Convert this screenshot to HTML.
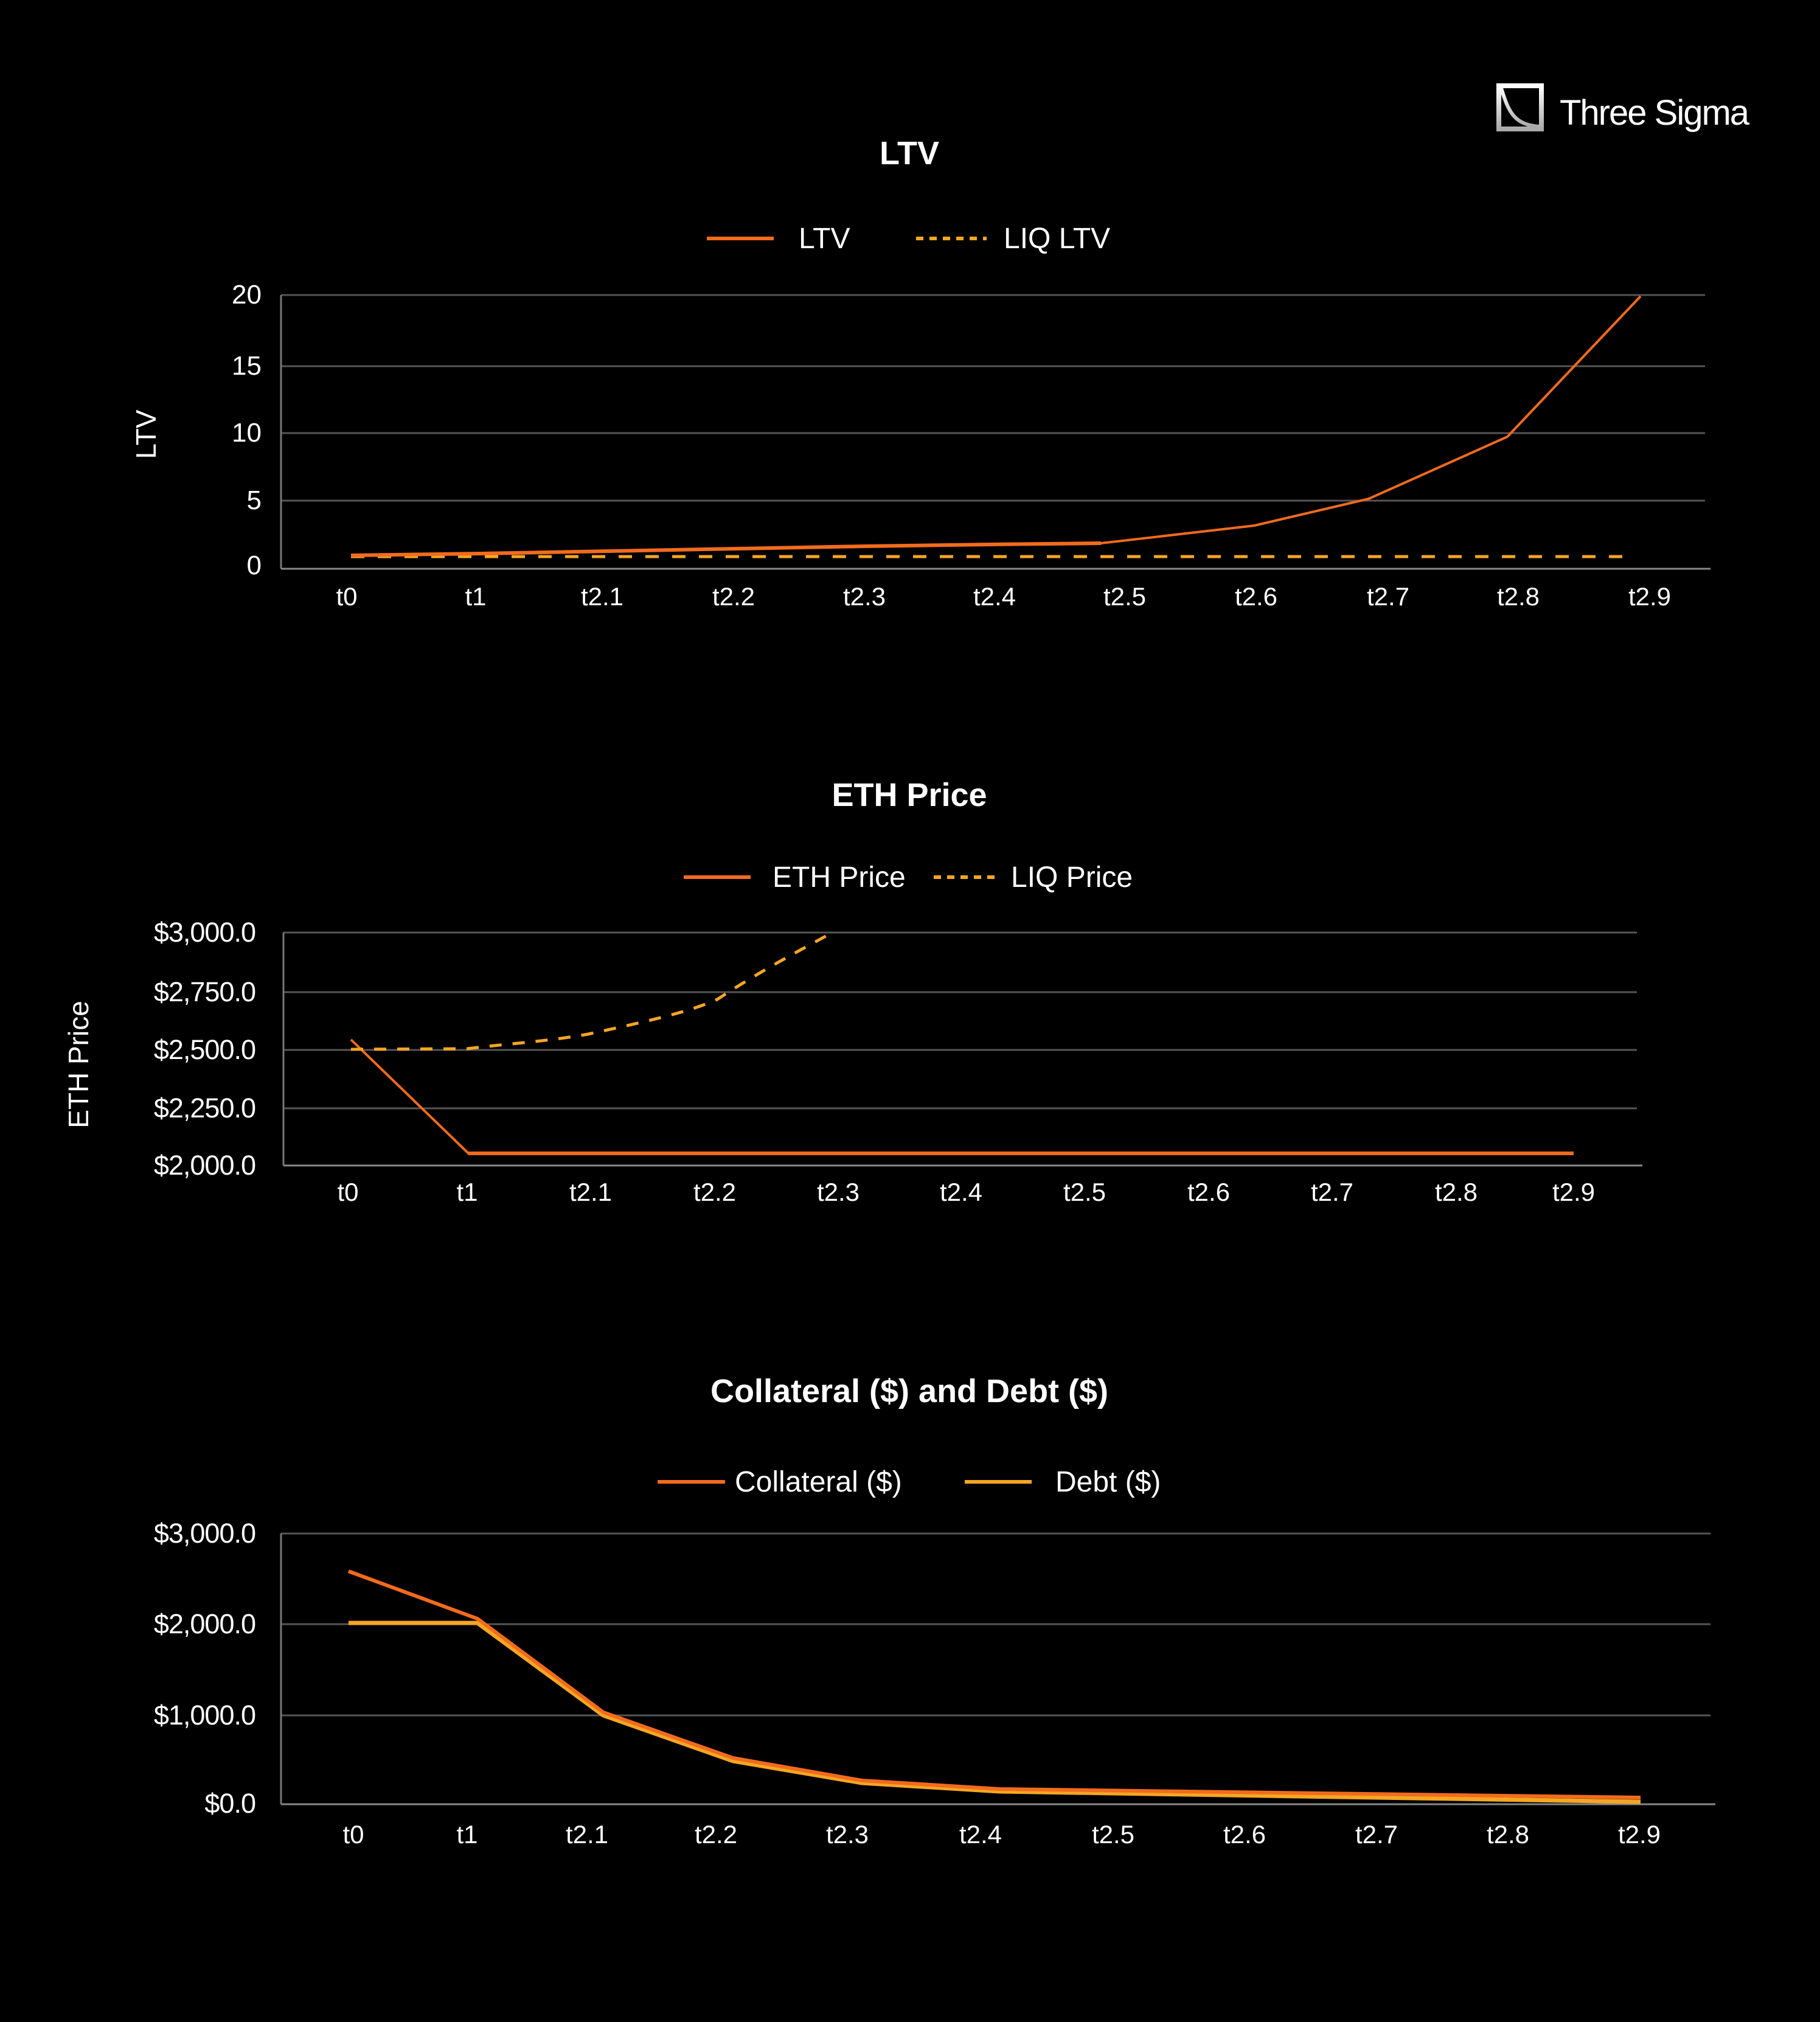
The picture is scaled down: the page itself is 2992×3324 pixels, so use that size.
<!DOCTYPE html>
<html><head><meta charset="utf-8"><style>
html,body{margin:0;padding:0;background:#000;}
svg{display:block;}
text{font-family:"Liberation Sans",sans-serif;fill:#fff;}
</style></head><body>
<svg width="2992" height="3324" viewBox="0 0 2992 3324" xmlns="http://www.w3.org/2000/svg">
<rect width="2992" height="3324" fill="#000"/>
<defs><linearGradient id="lg" x1="0" y1="0" x2="0" y2="1"><stop offset="0" stop-color="#fff"/><stop offset="1" stop-color="#aaa"/></linearGradient></defs>
<rect x="2464" y="141" width="70" height="71" fill="none" stroke="url(#lg)" stroke-width="8"/>
<path d="M2468 145 C2480 185 2490 205 2530 208" fill="none" stroke="url(#lg)" stroke-width="6"/>
<text x="2564" y="205" font-size="58" letter-spacing="-2" fill="url(#lg)">Three Sigma</text>

<text x="1495" y="270" font-size="54" font-weight="bold" text-anchor="middle">LTV</text>
<line x1="1162" y1="392" x2="1272" y2="392" stroke="#f26b1d" stroke-width="6"/>
<text x="1313" y="408" font-size="48">LTV</text>
<line x1="1506" y1="392" x2="1622" y2="392" stroke="#f5a623" stroke-width="6" stroke-dasharray="12,10"/>
<text x="1650" y="408" font-size="48">LIQ LTV</text>
<g stroke="#555" stroke-width="3">
<line x1="462" y1="485" x2="2803" y2="485"/><line x1="462" y1="602" x2="2803" y2="602"/>
<line x1="462" y1="712" x2="2803" y2="712"/><line x1="462" y1="823" x2="2803" y2="823"/>
</g>
<line x1="462" y1="485" x2="462" y2="935" stroke="#777" stroke-width="3"/>
<line x1="462" y1="935" x2="2812" y2="935" stroke="#888" stroke-width="3"/>
<g font-size="44" text-anchor="end">
<text x="430" y="499">20</text><text x="430" y="616">15</text><text x="430" y="726">10</text><text x="430" y="837">5</text><text x="430" y="944">0</text>
</g>
<text transform="translate(256,714) rotate(-90)" font-size="46" text-anchor="middle">LTV</text>
<g font-size="42" text-anchor="middle">
<text x="570" y="995">t0</text><text x="782" y="995">t1</text><text x="990" y="995">t2.1</text><text x="1206" y="995">t2.2</text><text x="1421" y="995">t2.3</text><text x="1635" y="995">t2.4</text><text x="1849" y="995">t2.5</text><text x="2065" y="995">t2.6</text><text x="2282" y="995">t2.7</text><text x="2496" y="995">t2.8</text><text x="2712" y="995">t2.9</text>
</g>
<line x1="577" y1="915" x2="2672" y2="915" stroke="#f5a623" stroke-width="5" stroke-dasharray="22,22"/>
<polyline points="577,913 790,910 1000,906 1210,902 1420,898 1630,895 1810,893 2062,864 2250,820 2478,718 2697,487" fill="none" stroke="#f26b1d" stroke-width="4"/>
<polyline points="577,913 790,910 1000,906 1210,902 1420,898 1630,895 1810,893" fill="none" stroke="#f26b1d" stroke-width="6"/>

<text x="1495" y="1325" font-size="54" font-weight="bold" text-anchor="middle">ETH Price</text>
<line x1="1124" y1="1442" x2="1234" y2="1442" stroke="#f26b1d" stroke-width="6"/>
<text x="1270" y="1458" font-size="48">ETH Price</text>
<line x1="1535" y1="1442" x2="1645" y2="1442" stroke="#f5a623" stroke-width="6" stroke-dasharray="12,10"/>
<text x="1662" y="1458" font-size="48">LIQ Price</text>
<g stroke="#555" stroke-width="3">
<line x1="466" y1="1533" x2="2691" y2="1533"/><line x1="466" y1="1631" x2="2691" y2="1631"/>
<line x1="466" y1="1726" x2="2691" y2="1726"/><line x1="466" y1="1822" x2="2691" y2="1822"/>
</g>
<line x1="466" y1="1533" x2="466" y2="1916" stroke="#777" stroke-width="3"/>
<line x1="466" y1="1916" x2="2700" y2="1916" stroke="#888" stroke-width="3"/>
<g font-size="45" text-anchor="end" letter-spacing="-1">
<text x="420" y="1548">$3,000.0</text><text x="420" y="1646">$2,750.0</text><text x="420" y="1741">$2,500.0</text><text x="420" y="1837">$2,250.0</text><text x="420" y="1931">$2,000.0</text>
</g>
<text transform="translate(145,1750) rotate(-90)" font-size="46" text-anchor="middle">ETH Price</text>
<g font-size="42" text-anchor="middle">
<text x="572" y="1974">t0</text><text x="768" y="1974">t1</text><text x="971" y="1974">t2.1</text><text x="1175" y="1974">t2.2</text><text x="1378" y="1974">t2.3</text><text x="1580" y="1974">t2.4</text><text x="1783" y="1974">t2.5</text><text x="1987" y="1974">t2.6</text><text x="2190" y="1974">t2.7</text><text x="2394" y="1974">t2.8</text><text x="2587" y="1974">t2.9</text>
</g>
<polyline points="577,1709 770,1896 2587,1896" fill="none" stroke="#f26b1d" stroke-width="4"/>
<line x1="770" y1="1896" x2="2587" y2="1896" stroke="#f26b1d" stroke-width="6"/>
<path d="M577,1725 L768,1724 C850,1714 900,1712 967,1700 C1050,1682 1130,1665 1179,1643 C1260,1590 1320,1560 1370,1532" fill="none" stroke="#f5a623" stroke-width="5" stroke-dasharray="20,18"/>

<text x="1495" y="2305" font-size="54" font-weight="bold" text-anchor="middle">Collateral ($) and Debt ($)</text>
<line x1="1081" y1="2436" x2="1192" y2="2436" stroke="#f26b1d" stroke-width="6"/>
<text x="1208" y="2452" font-size="48">Collateral ($)</text>
<line x1="1586" y1="2436" x2="1696" y2="2436" stroke="#f5a623" stroke-width="6"/>
<text x="1735" y="2452" font-size="48">Debt ($)</text>
<g stroke="#555" stroke-width="3">
<line x1="462" y1="2521" x2="2812" y2="2521"/><line x1="462" y1="2670" x2="2812" y2="2670"/><line x1="462" y1="2820" x2="2812" y2="2820"/>
</g>
<line x1="462" y1="2521" x2="462" y2="2966" stroke="#777" stroke-width="3"/>
<line x1="462" y1="2966" x2="2820" y2="2966" stroke="#888" stroke-width="3"/>
<g font-size="45" text-anchor="end" letter-spacing="-1">
<text x="420" y="2536">$3,000.0</text><text x="420" y="2685">$2,000.0</text><text x="420" y="2835">$1,000.0</text><text x="420" y="2980">$0.0</text>
</g>
<g font-size="42" text-anchor="middle">
<text x="581" y="3030">t0</text><text x="768" y="3030">t1</text><text x="965" y="3030">t2.1</text><text x="1177" y="3030">t2.2</text><text x="1393" y="3030">t2.3</text><text x="1612" y="3030">t2.4</text><text x="1830" y="3030">t2.5</text><text x="2046" y="3030">t2.6</text><text x="2263" y="3030">t2.7</text><text x="2479" y="3030">t2.8</text><text x="2695" y="3030">t2.9</text>
</g>
<polyline points="573,2668 785,2668 992,2820 1205,2895 1417,2931 1643,2945 2697,2962" fill="none" stroke="#f5a623" stroke-width="7"/>
<polyline points="573,2583 785,2661 992,2815 1205,2890 1417,2927 1643,2941 2697,2955" fill="none" stroke="#f26b1d" stroke-width="6"/>
</svg>
</body></html>
